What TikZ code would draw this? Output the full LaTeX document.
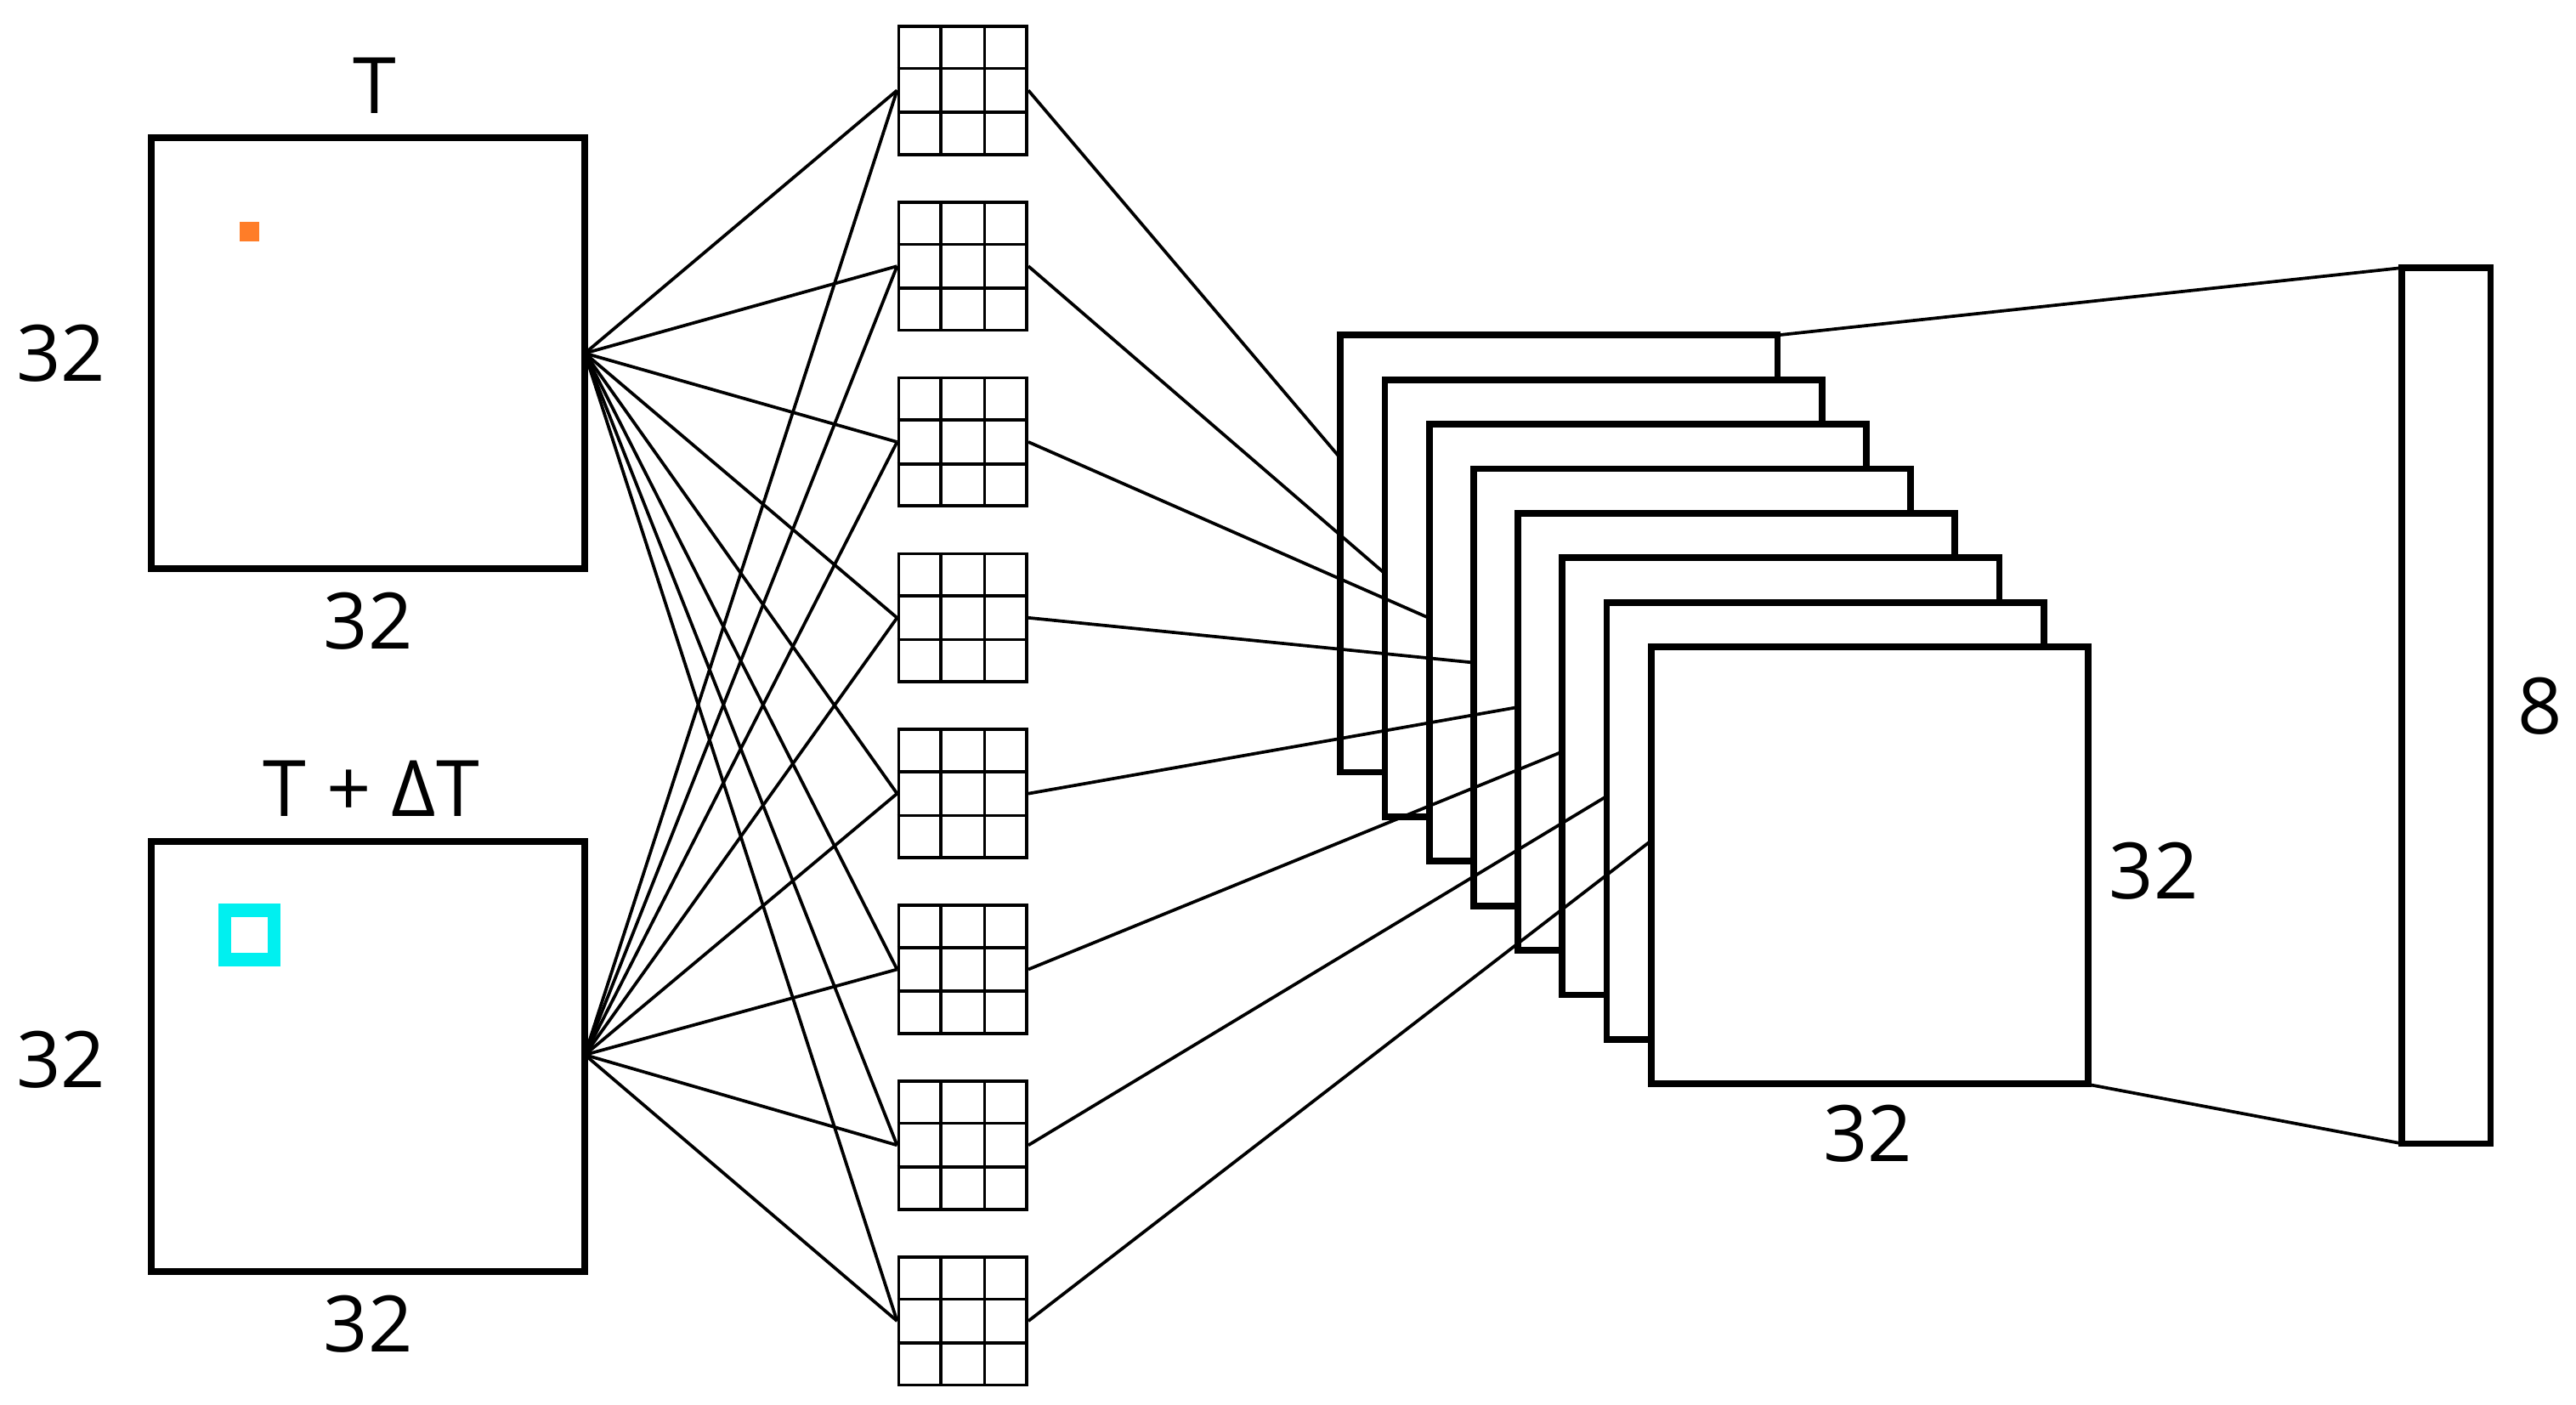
\documentclass[tikz,border=0pt]{standalone}
\usepackage{fontspec}
\setmainfont{Open Sans}
\usetikzlibrary{calc}
\begin{document}
\begin{tikzpicture}[x=0.02cm,y=-0.02cm,
  big/.style={draw,line width=2.3pt,fill=white},
  thin/.style={line width=1.1pt},
  lab/.style={font=\fontsize{27}{30}\selectfont,inner sep=0pt},
  kern/.style={draw,line width=1.1pt,minimum width=1.56cm,minimum height=1.56cm,inner sep=0pt}]
\useasboundingbox (0,0) rectangle (1568,855);
\definecolor{orng}{RGB}{255,125,40}
\definecolor{cyn}{RGB}{0,240,240}
% input boxes
\draw[big] (92,84) rectangle (356,346);
\coordinate (tR) at (356,215);
\fill[orng] (146,135) rectangle (158,147);
\node[lab] at (228,52) {T};
\node[lab] at (37,215) {32};
\node[lab] at (224,378) {32};
\draw[big] (92,512) rectangle (356,774);
\coordinate (dR) at (356,642);
\draw[cyn,line width=4.5pt] (137,554) rectangle (167,584);
\node[lab] at (226,480) {T + ΔT};
\node[lab] at (37,645) {32};
\node[lab] at (224,806) {32};
% kernels
\foreach \i in {1,...,8}{
  \pgfmathsetmacro{\ky}{16+107*(\i-1)+39}
  \node[kern] (k\i) at (586,\ky) {};
  \draw[thin] ($(k\i.north west)!1/3!(k\i.north east)$) -- ($(k\i.south west)!1/3!(k\i.south east)$);
  \draw[thin] ($(k\i.north west)!2/3!(k\i.north east)$) -- ($(k\i.south west)!2/3!(k\i.south east)$);
  \draw[thin] ($(k\i.north west)!1/3!(k\i.south west)$) -- ($(k\i.north east)!1/3!(k\i.south east)$);
  \draw[thin] ($(k\i.north west)!2/3!(k\i.south west)$) -- ($(k\i.north east)!2/3!(k\i.south east)$);
  \draw[thin] (tR) -- (k\i.west);
  \draw[thin] (dR) -- (k\i.west);
}
% feature maps
\foreach \i in {1,...,8}{
  \pgfmathsetmacro{\mx}{816+27*(\i-1)}
  \pgfmathsetmacro{\my}{204+27.1*(\i-1)}
  \draw[big] (\mx,\my) rectangle ++(266,266);
  \coordinate (m\i) at (\mx,\my+118);
}
\coordinate (m1) at (816,279);
\foreach \i in {1,...,8}{ \draw[thin] (k\i.east) -- (m\i); }
\coordinate (mTR) at (1082,204);
\coordinate (mBR) at (1271,660);
\node[lab] at (1311,530) {32};
\node[lab] at (1137,690) {32};
% output bar
\draw[big] (1462,163) rectangle (1516,696);
\draw[thin] (mTR) -- (1462,163);
\draw[thin] (mBR) -- (1462,696);
\node[lab] at (1546,430) {8};
\end{tikzpicture}
\end{document}
